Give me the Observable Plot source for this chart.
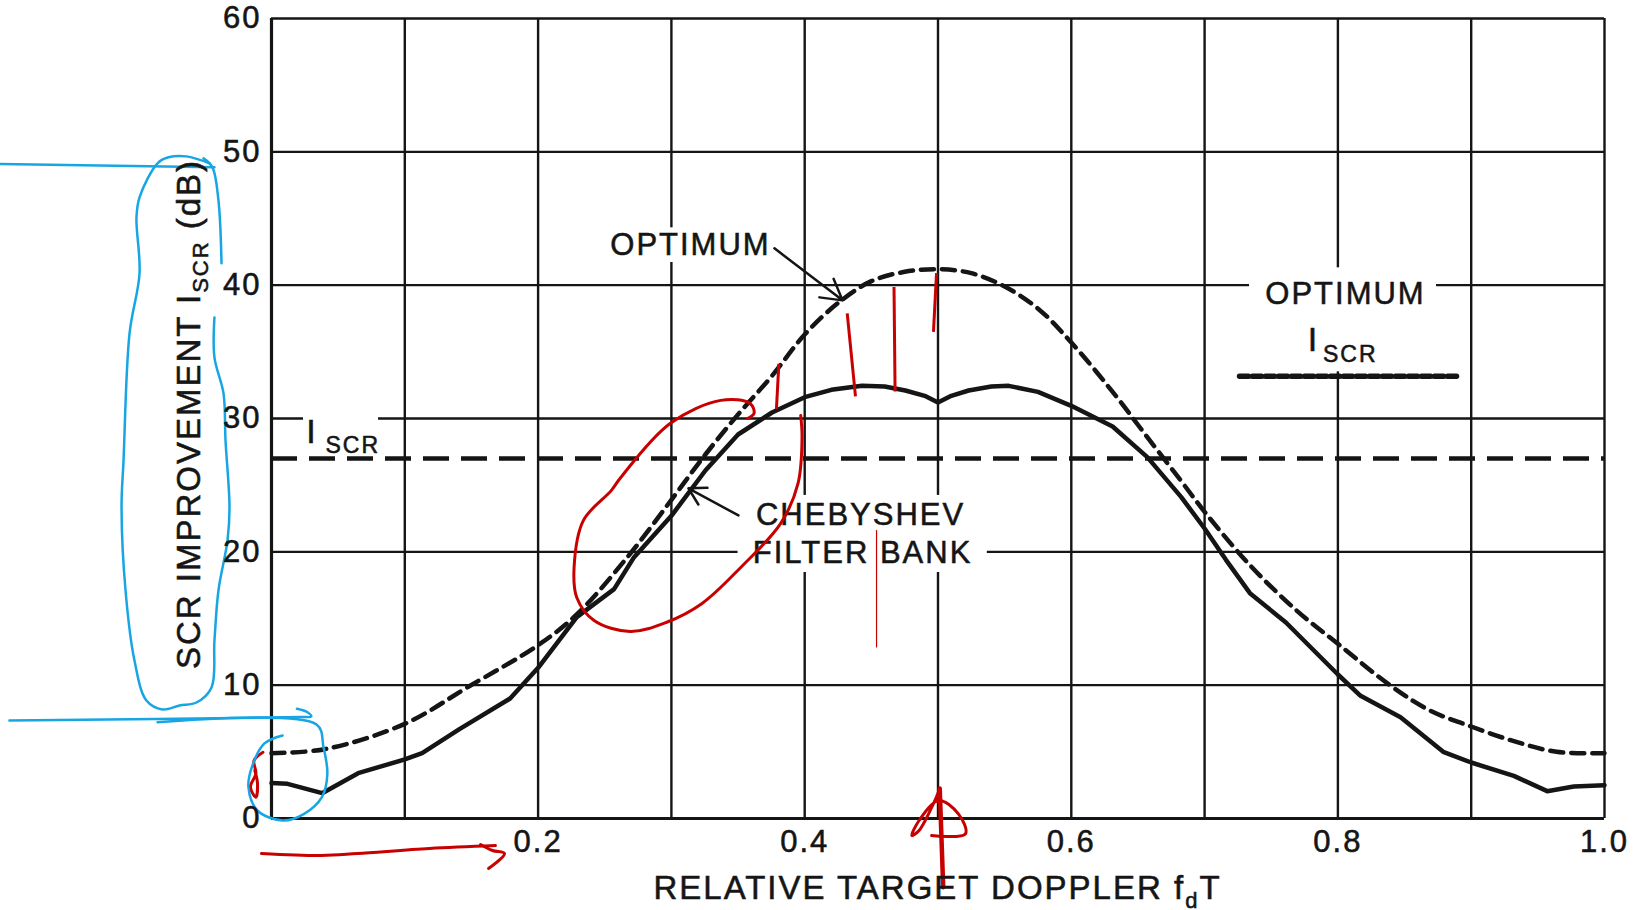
<!DOCTYPE html>
<html><head><meta charset="utf-8">
<script src="https://cdn.jsdelivr.net/npm/d3@7"></script>
<script src="https://cdn.jsdelivr.net/npm/@observablehq/plot@0.6"></script>
<style>
html,body{margin:0;padding:0;background:#fff;overflow:hidden}
#chart svg{display:block}
#chart svg text{letter-spacing:2px;stroke:#151515;stroke-width:0.55px}
</style></head><body><div id="chart"></div>
<script>
// ---------- chart data ----------
const gridX = [0,0.1,0.2,0.3,0.4,0.5,0.6,0.7,0.8,0.9,1.0];
const gridY = [0,10,20,30,40,50,60];
const xTickValues = [0.2,0.4,0.6,0.8,1.0];
const yTickValues = [0,10,20,30,40,50,60];

const optimumX = [0,0.04,0.1,0.148,0.2,0.229,0.267,0.3,0.3255,0.35,0.3755,0.4,0.4255,0.45,0.475,0.5,0.525,0.55,0.5755,0.6,0.631,0.657,0.6825,0.7,0.734,0.769,0.8,0.839,0.869,0.9,0.932,0.964,1.0];
const optimumY = [4.9,5.2,7.1,9.9,13.0,15.3,19.6,23.9,27.3,30.3,33.2,36.3,38.7,40.3,41.0,41.2,40.9,39.9,38.2,35.7,32.0,28.6,25.3,23.0,19.0,15.6,13.1,10.0,8.1,6.9,5.8,5.0,4.9];

const chebyX = [0,0.012,0.038,0.065,0.1,0.113,0.141,0.179,0.2,0.229,0.257,0.272,0.3,0.3255,0.35,0.3755,0.4,0.42,0.443,0.46,0.4755,0.49,0.5,0.51,0.523,0.54,0.553,0.575,0.6,0.631,0.657,0.6825,0.7,0.716,0.734,0.761,0.8,0.817,0.847,0.879,0.9,0.932,0.957,0.977,1.0];
const chebyY = [2.66,2.6,1.9,3.4,4.43,4.9,6.7,9.0,11.3,15.1,17.2,19.6,22.7,26.1,28.8,30.45,31.6,32.15,32.45,32.4,32.1,31.7,31.2,31.7,32.1,32.4,32.45,32.0,30.95,29.4,27.1,24.1,21.75,19.4,16.9,14.7,10.8,9.2,7.6,5.0,4.2,3.2,2.05,2.4,2.5];

const iscrLevel = [27];

// labels
const labelText = ["OPTIMUM","OPTIMUM","CHEBYSHEV","FILTER BANK"];
const labelX = [0.3143,0.8057,0.4419,0.4434];
const labelY = [42.24,38.56,21.98,19.13];
const iscrIX = [0.0304,0.7817];
const iscrIY = [28.13,35.03];
const iscrSubX = [0.0405,0.7888];
const iscrSubY = [27.38,34.25];

// legend sample (short dashes)
const legendX = [0.7262,0.8897];
const legendY = [33.16,33.16];

// white boxes behind labels
const boxX1 = [0.247,0.350,0.7337,0.024];
const boxX2 = [0.382,0.537,0.874,0.0803];
const boxY1 = [41.7,18.45,33.5,27.4];
const boxY2 = [44.3,24.23,41.3,31.0];

// pointer arrows
const arrowX1 = [0.3773,0.3503];
const arrowY1 = [42.76,22.73];
const arrowX2 = [0.4284,0.3128];
const arrowY2 = [38.86,24.76];

// hand-drawn red marks
const redLoopX = [0.397,0.398,0.395,0.382,0.352,0.323,0.296,0.269,0.242,0.229,0.227,0.234,0.255,0.262,0.299,0.337,0.359,0.362,0.357];
const redLoopY = [30.23,28.58,25.13,22.13,18.83,16.13,14.70,14.03,14.85,16.58,18.83,22.36,24.61,25.58,29.63,31.36,31.13,30.38,30.0];
const redTickX1 = [0.3806,0.4319,0.4670,0.4989];
const redTickY1 = [34.1,37.88,39.86,40.9];
const redTickX2 = [0.3788,0.4381,0.4678,0.4966];
const redTickY2 = [30.7,31.66,32.03,36.5];
const redThinX = [0.4539,0.4539];
const redThinY = [21.6,12.87];
const redStemX = [0.5013,0.5039];
const redStemY = [2.25,-5.15];
const redHeadX = [0.4952,0.5206,0.5153,0.5005,0.4858,0.4804,0.4858,0.4965,0.5013];
const redHeadY = [-1.28,-1.15,0.35,1.35,-0.15,-1.28,-0.9,1.1,2.23];
const redUnderX = [-0.0075,0.0375,0.0645,0.1185,0.168];
const redUnderY = [-2.63,-2.78,-2.63,-2.25,-2.03];
const redHookX = [0.1568,0.1658,0.1748,0.1628];
const redHookY = [-1.95,-2.40,-2.63,-3.75];
const redSquigX = [-0.0064,-0.0131,-0.0117,-0.0158,-0.0117,-0.0105,-0.0125];
const redSquigY = [4.97,4.35,3.38,2.35,1.60,2.63,3.6];

// hand-drawn blue marks
const blueOutlineX = [-0.0465,-0.0638,-0.0773,-0.0855,-0.0990,-0.1013,-0.0990,-0.1065,-0.1110,-0.1125,-0.1095,-0.1028,-0.0938,-0.0818,-0.0690,-0.0563,-0.0450,-0.0428,-0.0398,-0.0330,-0.0315,-0.0345,-0.0360,-0.0428,-0.0428];
const blueOutlineY = [49.14,49.66,49.59,49.14,46.59,45.09,40.89,36.38,26.86,23.33,17.10,11.85,8.85,8.18,8.48,8.70,9.83,13.35,17.10,20.86,23.33,28.36,31.88,34.58,37.58];
const blueOutline2X = [-0.0375,-0.0398,-0.0443,-0.0510];
const blueOutline2Y = [41.64,46.36,48.84,49.51];
const blueTopX = [-0.2033,-0.0428];
const blueTopY = [49.08,48.85];
const blueLine1X = [-0.1966,0.0218,0.0298,0.0270,0.0191];
const blueLine1Y = [7.35,7.61,7.65,7.97,8.23];
const blueLoopX = [-0.0855,0.0338,0.0390,0.0419,0.0378,0.0245,0.0083,-0.0105,-0.0173,-0.0143,-0.0053,0.0083];
const blueLoopY = [7.22,7.05,5.35,3.35,1.60,0.35,-0.15,0.60,2.35,3.98,5.63,6.23];

// ---------- tables ----------
const pts = (xs, ys, id) => xs.map((x, i) => ({x, y: ys[i], id}));
const optimum = pts(optimumX, optimumY, "opt");
const cheby = pts(chebyX, chebyY, "cheb");
const labels = labelText.map((t, i) => ({t, x: labelX[i], y: labelY[i]}));
const iscrI = pts(iscrIX, iscrIY);
const iscrSub = pts(iscrSubX, iscrSubY);
const legend = pts(legendX, legendY);
const boxes = boxX1.map((d, i) => ({x1: d, x2: boxX2[i], y1: boxY1[i], y2: boxY2[i]}));
const arrows = arrowX1.map((d, i) => ({x1: d, y1: arrowY1[i], x2: arrowX2[i], y2: arrowY2[i]}));
const redTicks = redTickX1.map((d, i) => ({x1: d, y1: redTickY1[i], x2: redTickX2[i], y2: redTickY2[i]}));
const redCurves = [
  ...pts(redLoopX, redLoopY, "loop"),
  ...pts(redHeadX, redHeadY, "head"),
  ...pts(redUnderX, redUnderY, "under"),
  ...pts(redHookX, redHookY, "hook"),
  ...pts(redSquigX, redSquigY, "squig")
];
const blueCurves = [
  ...pts(blueOutlineX, blueOutlineY, "o1"),
  ...pts(blueOutline2X, blueOutline2Y, "o2"),
  ...pts(blueTopX, blueTopY, "top"),
  ...pts(blueLine1X, blueLine1Y, "l1"),
  ...pts(blueLoopX, blueLoopY, "loop")
];

const INK = "#151515", RED = "#c80000", BLUE = "#17a6e3";

const chart = Plot.plot({
  width: 1635, height: 910,
  marginLeft: 271, marginRight: 31, marginTop: 18, marginBottom: 92,
  x: {domain: [0, 1]},
  y: {domain: [0, 60]},
  style: {fontFamily: "'Liberation Sans', Arial, sans-serif", fontSize: "31px", color: INK, background: "#fff", overflow: "visible"},
  marks: [
    Plot.ruleX(gridX, {stroke: INK, strokeWidth: 2.4}),
    Plot.ruleY(gridY, {stroke: INK, strokeWidth: 2.4}),
    Plot.rect(boxes, {x1: "x1", x2: "x2", y1: "y1", y2: "y2", fill: "#fff"}),
    Plot.ruleX([0], {stroke: INK, strokeWidth: 3.2}),
    Plot.ruleY([0], {stroke: INK, strokeWidth: 3.2}),
    Plot.ruleY(iscrLevel, {stroke: INK, strokeWidth: 4.5, strokeDasharray: "26,12"}),
    Plot.line(optimum, {x: "x", y: "y", curve: "catmull-rom", stroke: INK, strokeWidth: 4.5, strokeDasharray: "13,8"}),
    Plot.line(cheby, {x: "x", y: "y", stroke: INK, strokeWidth: 4.5, strokeLinejoin: "round"}),
    Plot.line(legend, {x: "x", y: "y", stroke: INK, strokeWidth: 5.5, strokeDasharray: "9,4"}),
    Plot.arrow(arrows, {x1: "x1", y1: "y1", x2: "x2", y2: "y2", stroke: INK, strokeWidth: 2.5, headLength: 14}),
    Plot.text(labels, {x: "x", y: "y", text: "t", fontSize: 31, textAnchor: "middle", lineAnchor: "bottom", fill: INK}),
    Plot.text(iscrI, {x: "x", y: "y", text: () => "I", fontSize: 34, textAnchor: "middle", lineAnchor: "bottom", fill: INK}),
    Plot.text(iscrSub, {x: "x", y: "y", text: () => "SCR", fontSize: 23, textAnchor: "start", lineAnchor: "bottom", fill: INK}),
    Plot.line(redCurves, {x: "x", y: "y", z: "id", curve: "catmull-rom", stroke: RED, strokeWidth: 3}),
    Plot.link(redTicks, {x1: "x1", y1: "y1", x2: "x2", y2: "y2", stroke: RED, strokeWidth: 3}),
    Plot.line(pts(redThinX, redThinY), {x: "x", y: "y", stroke: RED, strokeWidth: 1.2}),
    Plot.line(pts(redStemX, redStemY), {x: "x", y: "y", stroke: RED, strokeWidth: 4.5}),
    Plot.line(blueCurves, {x: "x", y: "y", z: "id", curve: "catmull-rom", stroke: BLUE, strokeWidth: 2.5}),
    Plot.axisX(xTickValues, {tickSize: 0, tickPadding: 11, tickFormat: d3.format(".1f"), label: null, fontSize: 31}),
    Plot.axisY(yTickValues, {tickSize: 0, tickPadding: 10, label: null, fontSize: 31})
  ]
});

document.getElementById("chart").appendChild(chart);

// axis titles with subscripts
const sx = chart.scale("x"), sy = chart.scale("y");
const svg = d3.select(chart);
const xt = svg.append("text")
  .attr("x", sx.apply(0.5)).attr("y", sy.apply(0) + 81)
  .attr("text-anchor", "middle").attr("fill", INK)
  .style("font-size", "33px").style("white-space", "pre").style("letter-spacing", "2px");
xt.append("tspan").text("RELATIVE TARGET DOPPLER f");
xt.append("tspan").attr("dy", 9).style("font-size", "22px").text("d");
xt.append("tspan").attr("dy", -9).text("T");

const yt = svg.append("text")
  .attr("transform", `translate(${sx.apply(0) - 71},${sy.apply(30.3)}) rotate(-90)`)
  .attr("text-anchor", "middle").attr("fill", INK)
  .style("font-size", "33px").style("white-space", "pre").style("letter-spacing", "2px");
yt.append("tspan").text("SCR IMPROVEMENT I");
yt.append("tspan").attr("dy", 8).style("font-size", "22px").text("SCR");
yt.append("tspan").attr("dy", -8).text(" (dB)");
</script></body></html>
